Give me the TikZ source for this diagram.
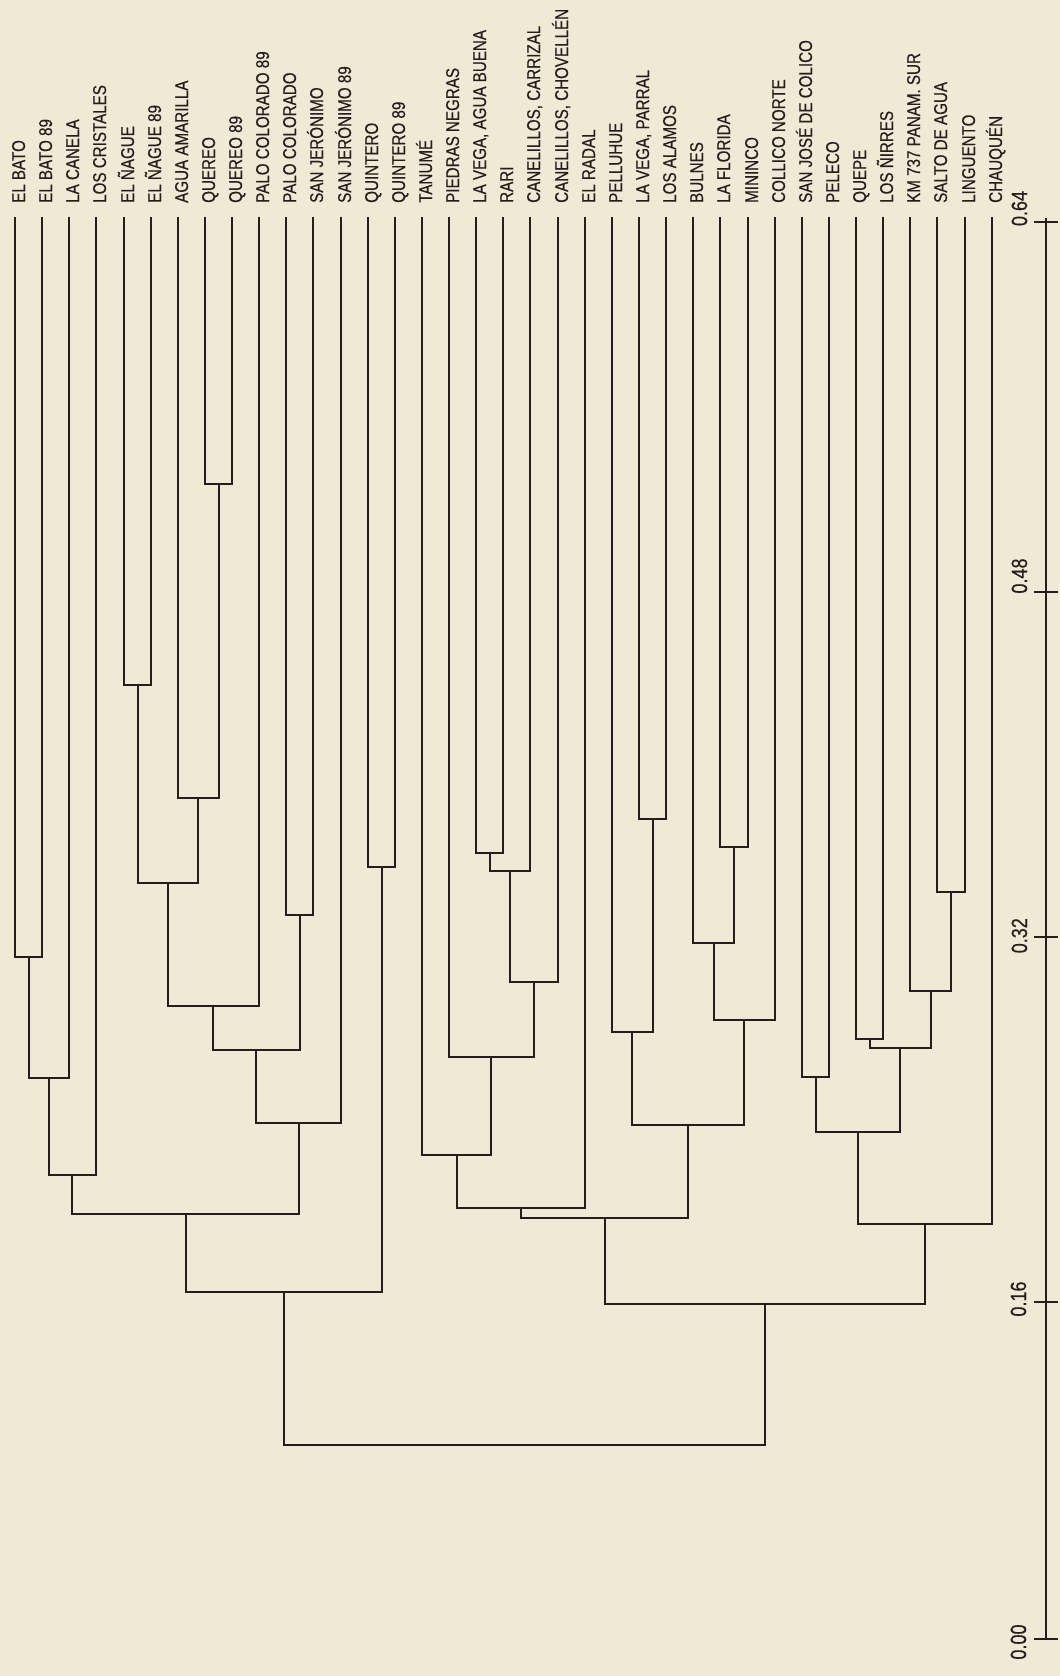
\documentclass[tikz,border=0pt]{standalone}
\usepackage{fontspec}
\newfontfamily\labfont[FakeStretch=0.82,FakeBold=0.35]{Liberation Sans}
\usetikzlibrary{calc}
\definecolor{bgc}{RGB}{239,233,214}
\definecolor{ink}{RGB}{38,30,28}
\newcommand\mrg[4]{%
  \coordinate (tmp) at ($(#1)!0.5!(#2)$);
  \coordinate (#3) at (tmp |- 0,#4);
  \draw[br] (#1) |- (#3) -| (#2);}
\begin{document}
\begin{tikzpicture}[x=1pt,y=-1pt,
  br/.style={draw=ink,line width=2pt,line join=miter},
  lab/.style={font=\labfont\fontsize{18.5}{18.5}\selectfont,text=ink,rotate=90,anchor=base west,inner sep=0pt},
  axlab/.style={font=\labfont\fontsize{22}{22}\selectfont,text=ink,rotate=90,anchor=base,inner sep=0pt}]
\useasboundingbox (0,0) rectangle (1060,1676);
\fill[bgc] (0,0) rectangle (1060,1676);
% leaves
\foreach \t [count=\i] in {EL BATO,EL BATO 89,LA CANELA,LOS CRISTALES,EL ÑAGUE,EL ÑAGUE 89,AGUA AMARILLA,QUEREO,QUEREO 89,PALO COLORADO 89,PALO COLORADO,SAN JERÓNIMO,SAN JERÓNIMO 89,QUINTERO,QUINTERO 89,TANUMÉ,PIEDRAS NEGRAS,{LA VEGA, AGUA BUENA},RARI,{CANELILLOS, CARRIZAL},{CANELILLOS, CHOVELLÉN},EL RADAL,PELLUHUE,{LA VEGA, PARRAL},LOS ALAMOS,BULNES,LA FLORIDA,MININCO,COLLICO NORTE,SAN JOSÉ DE COLICO,PELECO,QUEPE,LOS ÑIRRES,KM 737 PANAM. SUR,SALTO DE AGUA,LINGUENTO,CHAUQUÉN}{
  \pgfmathsetmacro\xx{15+round((\i-1)*27.13)}
  \coordinate (L\i) at (\xx,217);
  \node[lab] (T\i) at (\xx+10,203) {\t};
}
% cluster A
\mrg{L1}{L2}{m1}{956.5}
\mrg{m1}{L3}{m2}{1078}
\mrg{m2}{L4}{m3}{1174.6}
\mrg{L5}{L6}{m4}{685}
\mrg{L8}{L9}{m5}{484.3}
\mrg{L7}{m5}{m6}{798.3}
\mrg{m4}{m6}{m7}{883}
\mrg{m7}{L10}{m8}{1006.2}
\mrg{L11}{L12}{m9}{914.5}
\mrg{m8}{m9}{m10}{1050}
\mrg{m10}{L13}{m11}{1123.2}
\mrg{m3}{m11}{m12}{1213.7}
\mrg{L14}{L15}{m13}{867.3}
\mrg{m12}{m13}{m14}{1291.6}
% cluster B
\mrg{L18}{L19}{n1}{853.3}
\mrg{n1}{L20}{n2}{870.7}
\mrg{n2}{L21}{n3}{981.8}
\mrg{L17}{n3}{n4}{1057.2}
\mrg{L16}{n4}{n5}{1154.8}
\mrg{n5}{L22}{n6}{1208.2}
\mrg{L24}{L25}{n7}{819}
\mrg{L23}{n7}{n8}{1031.5}
\mrg{L27}{L28}{n9}{847.3}
\mrg{L26}{n9}{n10}{943}
\mrg{n10}{L29}{n11}{1019.7}
\mrg{n8}{n11}{n12}{1124.9}
\mrg{n6}{n12}{n13}{1217.9}
% cluster C
\mrg{L30}{L31}{c1}{1076.5}
\mrg{L32}{L33}{c2}{1038.6}
\mrg{L35}{L36}{c3}{892}
\mrg{L34}{c3}{c4}{990.7}
\mrg{c2}{c4}{c5}{1048.3}
\mrg{c1}{c5}{c6}{1131.6}
\mrg{c6}{L37}{c7}{1223.8}
\mrg{n13}{c7}{c8}{1303.8}
\mrg{m14}{c8}{root}{1444.8}
% axis
\coordinate (atop) at (1046,218);
\coordinate (t64) at (1046,221.7);
\coordinate (t48) at (1046,591.7);
\coordinate (t32) at (1046,936.8);
\coordinate (t16) at (1046,1301.7);
\coordinate (t00) at (1046,1639);
\draw[br] (atop) -- (t00);
\foreach \c in {t64,t48,t32,t16,t00}{\draw[br] (\c) ++(-12,0) -- ++(24,0);}
\node[axlab] (v64) at (1027,208.5) {0.64};
\node[axlab] (v48) at (1027,576) {0.48};
\node[axlab] (v32) at (1027,935.7) {0.32};
\node[axlab] (v16) at (1026,1299) {0.16};
\node[axlab] (v00) at (1026,1642) {0.00};
\end{tikzpicture}
\end{document}
